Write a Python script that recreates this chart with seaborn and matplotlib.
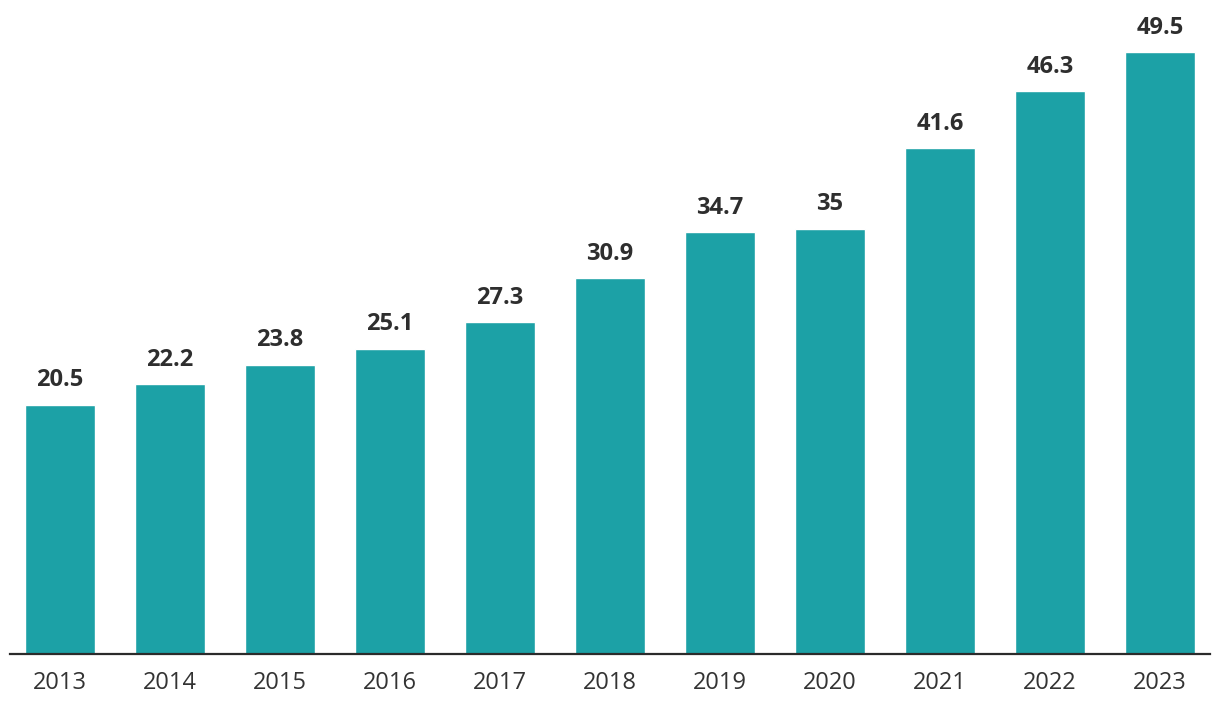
import numpy as np
import pandas as pd
import seaborn as sns
import matplotlib.pyplot as plt

years = ["2013", "2014", "2015", "2016", "2017", "2018", "2019", "2020", "2021", "2022", "2023"]
values = [20.5, 22.2, 23.8, 25.1, 27.3, 30.9, 34.7, 35, 41.6, 46.3, 49.5]
value_labels = ["20.5", "22.2", "23.8", "25.1", "27.3", "30.9", "34.7", "35", "41.6", "46.3", "49.5"]

df = pd.DataFrame({"year": years, "value": values})

sns.set_style("white")
plt.rcParams['font.family'] = ['Open Sans', 'DejaVu Sans']

fig = plt.figure(figsize=(12.2, 7.18), dpi=100)
ax = fig.add_axes([10 / 1220, 64 / 718, 1200 / 1220, 654 / 718])

sns.barplot(data=df, x="year", y="value", color="#1ca1a6", saturation=1,
            width=0.64, ax=ax)

for i, (v, lab) in enumerate(zip(values, value_labels)):
    ax.annotate(lab, (i, v), xytext=(0, 9), textcoords="offset points",
                ha="center", va="bottom", fontsize=17, fontweight="bold",
                color="#2e2e2e")

ax.set_xlim(-0.455, len(years) - 0.545)
ax.set_ylim(0, 53.8)
ax.set_xlabel("")
ax.set_ylabel("")
ax.set_yticks([])
ax.tick_params(axis="x", length=0, pad=12, labelsize=17, labelcolor="#333333")
for s in ["top", "right", "left"]:
    ax.spines[s].set_visible(False)
ax.spines["bottom"].set_color("#2b2b2b")
ax.spines["bottom"].set_linewidth(1.6)

fig.savefig("out.png", dpi=100)
